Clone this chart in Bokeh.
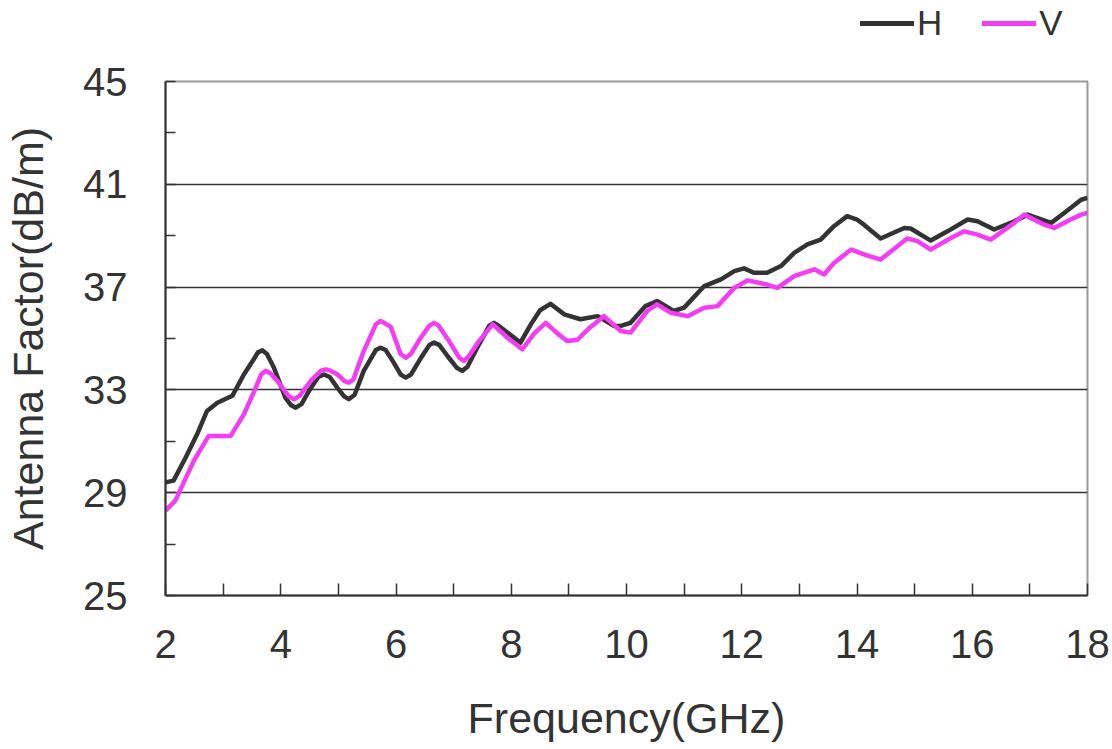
from bokeh.plotting import figure
from bokeh.layouts import column
from bokeh.models import FixedTicker, Legend, LegendItem, Range1d
from bokeh.embed import file_html
from bokeh.resources import INLINE

# ---- data ----
freq_h = [2.0, 2.14, 2.35, 2.55, 2.72, 2.9, 3.16, 3.36, 3.52, 3.6, 3.68, 3.76, 3.88, 4.08, 4.18, 4.26,
          4.36, 4.49, 4.65, 4.75, 4.85, 4.98, 5.1, 5.18, 5.28, 5.44, 5.65, 5.73, 5.82, 5.95, 6.08,
          6.17, 6.26, 6.42, 6.58, 6.66, 6.75, 6.9, 7.06, 7.15, 7.24, 7.4, 7.62, 7.7, 7.78, 7.95,
          8.16, 8.34, 8.5, 8.68, 8.92, 9.2, 9.5, 9.78, 9.9, 10.07, 10.33, 10.53, 10.82,
          11.0, 11.35, 11.64, 11.87, 12.04, 12.21, 12.44, 12.68, 12.91, 13.14, 13.37, 13.6,
          13.83, 14.0, 14.12, 14.41, 14.82, 14.93, 15.28, 15.57, 15.92, 16.09, 16.38, 16.73,
          16.96, 17.37, 17.6, 17.89, 18.0]
af_h = [29.4, 29.47, 30.37, 31.28, 32.18, 32.5, 32.77, 33.6, 34.15, 34.45, 34.54, 34.4, 33.87, 32.7, 32.4, 32.31,
        32.45, 32.96, 33.5, 33.6, 33.5, 33.09, 32.75, 32.64, 32.8, 33.74, 34.55, 34.64, 34.55, 34.1, 33.6,
        33.48, 33.6, 34.2, 34.75, 34.84, 34.75, 34.3, 33.85, 33.74, 33.9, 34.6, 35.5, 35.61, 35.5, 35.2,
        34.84, 35.55, 36.1, 36.35, 35.94, 35.75, 35.87, 35.49, 35.49, 35.61, 36.26, 36.46, 36.07,
        36.2, 37.04, 37.3, 37.62, 37.73, 37.56, 37.56, 37.82, 38.33, 38.66, 38.85, 39.37,
        39.76, 39.63, 39.43, 38.89, 39.3, 39.28, 38.81, 39.17, 39.63, 39.56, 39.24, 39.56,
        39.82, 39.5, 39.89, 40.4, 40.47]

freq_v = [2.0, 2.17, 2.49, 2.75, 3.13, 3.36, 3.55, 3.66, 3.74, 3.82, 3.94, 4.14, 4.23, 4.32, 4.52,
          4.7, 4.78, 4.86, 4.98, 5.1, 5.18, 5.26, 5.44, 5.65, 5.73, 5.8, 5.91, 6.08, 6.17, 6.26,
          6.42, 6.58, 6.66, 6.74, 6.92, 7.1, 7.18, 7.26, 7.44, 7.68, 7.95, 8.19, 8.4, 8.6,
          8.8, 8.97, 9.15, 9.35, 9.61, 9.9, 10.07, 10.36, 10.53, 10.77, 11.06, 11.35, 11.58,
          11.87, 12.1, 12.44, 12.62, 12.91, 13.26, 13.43, 13.6, 13.9, 14.12, 14.41, 14.87,
          15.05, 15.28, 15.63, 15.86, 16.09, 16.32, 16.73, 16.9, 17.25, 17.42, 17.71, 17.89, 18.0]
af_v = [28.3, 28.69, 30.24, 31.21, 31.21, 32.05, 33.0, 33.6, 33.74, 33.65, 33.35, 32.75, 32.64, 32.75, 33.35,
        33.75, 33.8, 33.75, 33.61, 33.35, 33.28, 33.4, 34.51, 35.55, 35.68, 35.6, 35.45, 34.4, 34.25, 34.4,
        35.0, 35.5, 35.61, 35.5, 34.9, 34.25, 34.13, 34.3, 34.9, 35.55, 35.0, 34.58, 35.2, 35.61,
        35.2, 34.9, 34.95, 35.4, 35.87, 35.29, 35.23, 36.07, 36.33, 36.0, 35.87, 36.2, 36.26,
        36.97, 37.26, 37.1, 36.97, 37.43, 37.69, 37.49, 37.94, 38.46, 38.27, 38.07, 38.89,
        38.79, 38.46, 38.91, 39.17, 39.04, 38.85, 39.5, 39.82, 39.43, 39.3, 39.63, 39.82, 39.89]

series_names = ["H", "V"]
x_ticks = [2, 4, 6, 8, 10, 12, 14, 16, 18]
x_minor = [3, 5, 7, 9, 11, 13, 15, 17]
y_ticks = [25, 29, 33, 37, 41, 45]
y_minor = [27, 31, 35, 39, 43]

FONT = "Liberation Sans"
TXT = "#333333"
H_COL = "#333333"
V_COL = "#f53cf5"
W = 1112
LEG_H = 60

# ---- main chart ----
p = figure(width=W, height=749 - LEG_H, output_backend="svg", toolbar_location=None,
           x_range=Range1d(2, 18), y_range=Range1d(25, 45),
           min_border_left=165, min_border_right=25, min_border_top=81 - LEG_H, min_border_bottom=154)
p.background_fill_color = "white"
p.border_fill_color = "white"
p.outline_line_color = "#9a9a9a"
p.outline_line_width = 2

p.xaxis.ticker = FixedTicker(ticks=x_ticks, minor_ticks=x_minor)
p.yaxis.ticker = FixedTicker(ticks=y_ticks, minor_ticks=y_minor)
for ax in (p.xaxis, p.yaxis):
    ax.axis_line_color = "#333333"
    ax.axis_line_width = 2
    ax.major_tick_line_color = "#333333"
    ax.minor_tick_line_color = "#333333"
    ax.major_tick_line_width = 1.5
    ax.minor_tick_line_width = 1.5
    ax.major_tick_out = 0
    ax.minor_tick_out = 0
    ax.major_label_text_font = FONT
    ax.major_label_text_font_size = "40px"
    ax.major_label_text_color = TXT
    ax.axis_label_text_font = FONT
    ax.axis_label_text_font_size = "43px"
    ax.axis_label_text_font_style = "normal"
    ax.axis_label_text_color = TXT

p.xaxis.major_tick_in = 12
p.xaxis.minor_tick_in = 12
p.yaxis.major_tick_in = 10
p.yaxis.minor_tick_in = 10
p.xaxis.major_label_standoff = 34
p.yaxis.major_label_standoff = 38
p.xaxis.axis_label = "Frequency(GHz)"
p.yaxis.axis_label = "Antenna Factor(dB/m)"
p.xaxis.axis_label_standoff = 33
p.yaxis.axis_label_standoff = 28

p.xgrid.grid_line_color = None
p.ygrid.ticker = FixedTicker(ticks=y_ticks)
p.ygrid.grid_line_color = "#333333"
p.ygrid.grid_line_width = 1.5

p.line(freq_h, af_h, line_color=H_COL, line_width=4.5, line_join="round")
p.line(freq_v, af_v, line_color=V_COL, line_width=4.5, line_join="round")

# ---- legend strip above the chart (its frame is aligned with the chart's frame) ----
lg = figure(width=W, height=LEG_H, output_backend="svg", toolbar_location=None,
            x_range=Range1d(0, 1), y_range=Range1d(0, 1),
            x_axis_type=None, y_axis_type=None,
            min_border_left=0, min_border_right=0, min_border_top=0, min_border_bottom=0)
lg.outline_line_color = None
lg.grid.visible = False
lh = lg.line(freq_h, af_h, line_color=H_COL, line_width=5, line_cap="round")
lv = lg.line(freq_v, af_v, line_color=V_COL, line_width=5, line_cap="round")
legend = Legend(items=[LegendItem(label=series_names[0], renderers=[lh]),
                       LegendItem(label=series_names[1], renderers=[lv])],
                orientation="horizontal", location=(695, 17),
                label_text_font=FONT, label_text_font_size="35px", label_text_color=TXT,
                border_line_color=None, background_fill_alpha=0,
                glyph_width=54, label_standoff=3, spacing=40, padding=0, margin=0)
lg.add_layout(legend, "center")

layout = column(lg, p, spacing=0)
open("out.html", "w").write(file_html(layout, INLINE))
